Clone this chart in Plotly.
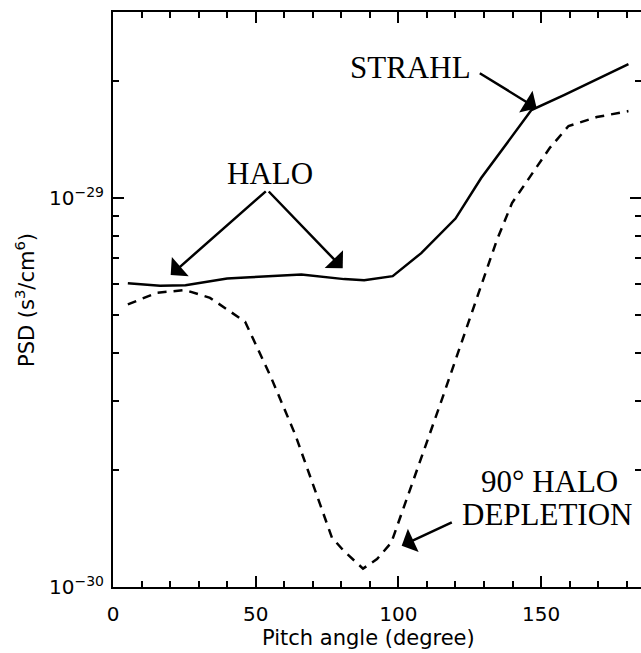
import math
import plotly.graph_objects as go

# ---- data ----
pitch_solid = [5.2, 16.5, 25.4, 40, 48, 66, 81, 88, 98, 108, 120, 129, 146.6, 158, 180.6]
psd_solid = [6.04e-30, 5.95e-30, 5.97e-30, 6.21e-30, 6.26e-30, 6.36e-30, 6.19e-30, 6.15e-30,
             6.30e-30, 7.22e-30, 8.86e-30, 11.26e-30, 16.84e-30, 18.41e-30, 22.12e-30]

pitch_dash = [5.2, 15.4, 25.3, 34, 46.3, 55.3, 63.9, 76.7, 80.8, 87.6, 92.5, 97.5, 115,
              134.5, 139.8, 153, 159.6, 169.5, 180.6]
psd_dash = [5.33e-30, 5.71e-30, 5.80e-30, 5.54e-30, 4.81e-30, 3.47e-30, 2.46e-30, 1.34e-30,
            1.24e-30, 1.115e-30, 1.18e-30, 1.30e-30, 3.0e-30, 7.8e-30, 9.71e-30, 13.45e-30,
            15.32e-30, 16.16e-30, 16.74e-30]

x_major = [0, 50, 100, 150]
x_minor = [10, 20, 30, 40, 60, 70, 80, 90, 110, 120, 130, 140, 160, 170, 180]
y_major = [1e-30, 1e-29]
y_major_text = ["10<sup>\u221230</sup>", "10<sup>\u221229</sup>"]
y_minor = [2e-30, 3e-30, 4e-30, 5e-30, 6e-30, 7e-30, 8e-30, 9e-30, 2e-29]

W, H = 641, 653
ML, MR, MT, MB = 113, 0, 12, 66
PW, PH = W - ML - MR, H - MT - MB

def paper(xp, yp):
    return (xp - ML) / PW, (H - MB - yp) / PH

SANS = "DejaVu Sans"
SERIF = "Liberation Serif"

fig = go.Figure()
fig.add_trace(go.Scatter(x=pitch_solid, y=psd_solid, mode="lines",
                         line=dict(color="black", width=2.5), showlegend=False))
fig.add_trace(go.Scatter(x=pitch_dash, y=psd_dash, mode="lines",
                         line=dict(color="black", width=2.5, dash="9px,7px"), showlegend=False))
# invisible trace so the right-hand tick axis is drawn
fig.add_trace(go.Scatter(x=[None], y=[None], yaxis="y2", showlegend=False, hoverinfo="skip"))

yr = [math.log10(1e-30), math.log10(3.01e-29)]
tickcommon = dict(ticks="inside", tickcolor="black", tickwidth=1.5, showgrid=False, zeroline=False)

fig.update_layout(
    width=W, height=H,
    margin=dict(l=ML, r=MR, t=MT, b=MB),
    paper_bgcolor="white", plot_bgcolor="white",
    showlegend=False,
    xaxis=dict(range=[0, 185], showline=True, linecolor="black", linewidth=2, mirror="ticks",
               tickvals=x_major, ticktext=[str(v) for v in x_major], ticklen=11,
               ticklabelstandoff=8,
               tickfont=dict(family=SANS, size=20, color="black"),
               minor=dict(tickvals=x_minor, ticks="inside", ticklen=6, tickwidth=1.5, tickcolor="black"),
               **tickcommon),
    yaxis=dict(type="log", range=yr, showline=True, linecolor="black", linewidth=2,
               tickvals=y_major, ticktext=y_major_text, ticklen=11,
               ticklabelstandoff=3,
               tickfont=dict(family=SANS, size=20, color="black"),
               minor=dict(tickvals=y_minor, ticks="inside", ticklen=6, tickwidth=1.5, tickcolor="black"),
               **tickcommon),
    yaxis2=dict(type="log", range=yr, overlaying="y", side="right", showline=False,
                tickvals=y_major, ticklen=11, showticklabels=False,
                minor=dict(tickvals=y_minor, ticks="inside", ticklen=6, tickwidth=1.5, tickcolor="black"),
                **tickcommon),
)

anns = []
# axis titles
px_, py_ = paper(368.7, 638)
anns.append(dict(x=px_, y=py_, xref="paper", yref="paper", showarrow=False,
                 text="Pitch angle (degree)", font=dict(family=SANS, size=21, color="black"),
                 xanchor="center", yanchor="middle"))
px_, py_ = paper(25, 300)
anns.append(dict(x=px_, y=py_, xref="paper", yref="paper", showarrow=False, textangle=-90,
                 text="PSD (s<sup>3</sup>/cm<sup>6</sup>)", font=dict(family=SANS, size=21, color="black"),
                 xanchor="center", yanchor="middle"))

# text labels
labels = [("STRAHL", 410, 67), ("HALO", 269.7, 173), ("90\u00b0 HALO", 549, 481),
          ("DEPLETION", 547, 514)]
for t, xp, yp in labels:
    px_, py_ = paper(xp, yp)
    anns.append(dict(x=px_, y=py_, xref="paper", yref="paper", showarrow=False, text=t,
                     font=dict(family=SERIF, size=31, color="black"),
                     xanchor="center", yanchor="middle", align="center"))

# arrows: (tip, tail) in pixel positions
arrows = [((536.7, 108.3), (478.3, 72.3)),
          ((170.7, 275.0), (267.3, 190.0)),
          ((342.7, 268.3), (267.3, 190.0)),
          ((401.7, 545.7), (453.3, 521.7))]
for (tx, ty), (sx, sy) in arrows:
    px_, py_ = paper(tx, ty)
    anns.append(dict(x=px_, y=py_, xref="paper", yref="paper", text="", showarrow=True,
                     axref="pixel", ayref="pixel", ax=sx - tx, ay=sy - ty,
                     arrowhead=1, arrowsize=1.7, arrowwidth=2.5, arrowcolor="black", standoff=0))

fig.update_layout(annotations=anns)
fig.write_html("out.html")
